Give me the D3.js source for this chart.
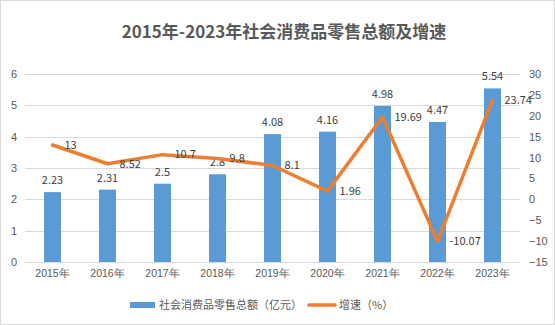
<!DOCTYPE html>
<html>
<head>
<meta charset="utf-8">
<script src="https://cdn.jsdelivr.net/npm/d3@7"></script>
<style>
  html, body { margin: 0; padding: 0; background: #fff; }
  svg { display: block; font-family: "Noto Sans CJK SC", "Noto Sans", sans-serif; }
</style>
</head>
<body>
<svg id="chart" width="555" height="325"></svg>
<script>
// 数据
const years = ["2015年", "2016年", "2017年", "2018年", "2019年", "2020年", "2021年", "2022年", "2023年"];
const totals = [2.23, 2.31, 2.5, 2.8, 4.08, 4.16, 4.98, 4.47, 5.54];
const growth = [13, 8.52, 10.7, 9.8, 8.1, 1.96, 19.69, -10.07, 23.74];
const leftTicks = [0, 1, 2, 3, 4, 5, 6];
const rightTicks = [-15, -10, -5, 0, 5, 10, 15, 20, 25, 30];

const title = "2015年-2023年社会消费品零售总额及增速";
const seriesNames = ["社会消费品零售总额（亿元）", "增速（%）"];

const W = 555, H = 325;
const m = { left: 25, right: 35, top: 74, bottom: 63 };
const BLUE = "#5B9BD5", ORANGE = "#ED7D31", TEXT = "#595959", GRID = "#d9d9d9";

const svg = d3.select("#chart");

svg.append("rect")
  .attr("x", 0.5).attr("y", 0.5)
  .attr("width", W - 1).attr("height", H - 1)
  .attr("fill", "#fff").attr("stroke", GRID);

const x = d3.scaleBand().domain(years).range([m.left, W - m.right]).paddingInner(0.69).paddingOuter(0.345);
const yL = d3.scaleLinear().domain([0, 6]).range([H - m.bottom, m.top]);
const yR = d3.scaleLinear().domain([-15, 30]).range([H - m.bottom, m.top]);

// 标题
svg.append("text")
  .attr("x", 284).attr("y", 38)
  .attr("text-anchor", "middle")
  .attr("font-size", 17).attr("font-weight", "bold")
  .attr("fill", TEXT)
  .text(title);

// 网格线
svg.append("g")
  .selectAll("line")
  .data(leftTicks)
  .join("line")
  .attr("x1", m.left).attr("x2", W - m.right)
  .attr("y1", d => Math.round(yL(d)) + 0.5).attr("y2", d => Math.round(yL(d)) + 0.5)
  .attr("stroke", GRID).attr("stroke-width", 1);

// 左轴
const leftAxis = svg.append("g")
  .attr("transform", `translate(${m.left - 8},0)`)
  .call(d3.axisLeft(yL).tickValues(leftTicks).tickFormat(d3.format("d")).tickSize(0).tickPadding(0));
leftAxis.select(".domain").remove();
leftAxis.selectAll("text").attr("font-size", 11).attr("fill", TEXT).attr("font-family", "inherit");

// 右轴
const rightAxis = svg.append("g")
  .attr("transform", `translate(${W - m.right + 9},0)`)
  .call(d3.axisRight(yR).tickValues(rightTicks).tickFormat(d3.format("d")).tickSize(0).tickPadding(0));
rightAxis.select(".domain").remove();
rightAxis.selectAll("text").attr("font-size", 11).attr("fill", TEXT).attr("font-family", "inherit");

// X 轴
const xAxis = svg.append("g")
  .attr("transform", `translate(0,${H - m.bottom + 8})`)
  .call(d3.axisBottom(x).tickSize(0).tickPadding(0));
xAxis.select(".domain").remove();
xAxis.selectAll("text").attr("font-size", 10.5).attr("fill", TEXT).attr("font-family", "inherit");

// 柱
svg.append("g")
  .selectAll("rect")
  .data(totals)
  .join("rect")
  .attr("x", (d, i) => x(years[i]))
  .attr("width", x.bandwidth())
  .attr("y", d => yL(d))
  .attr("height", d => yL(0) - yL(d))
  .attr("fill", BLUE);

// 柱标签
svg.append("g")
  .selectAll("text")
  .data(totals)
  .join("text")
  .attr("x", (d, i) => x(years[i]) + x.bandwidth() / 2)
  .attr("y", d => yL(d) - 8)
  .attr("text-anchor", "middle")
  .attr("font-size", 11).attr("fill", "#404040")
  .text(d => d);

// 折线
const cx = i => x(years[i]) + x.bandwidth() / 2;
const line = d3.line().x((d, i) => cx(i)).y(d => yR(d));
svg.append("path")
  .datum(growth)
  .attr("d", line)
  .attr("fill", "none")
  .attr("stroke", ORANGE)
  .attr("stroke-width", 3.5)
  .attr("stroke-linejoin", "round")
  .attr("stroke-linecap", "round");

// 折线标签
svg.append("g")
  .selectAll("text")
  .data(growth)
  .join("text")
  .attr("x", (d, i) => cx(i) + 12)
  .attr("y", d => yR(d))
  .attr("dy", "0.35em")
  .attr("font-size", 11).attr("fill", "#404040")
  .text(d => d);

// 图例
const lg = svg.append("g");
lg.append("rect").attr("x", 130).attr("y", 302).attr("width", 25).attr("height", 6).attr("fill", BLUE);
lg.append("text").attr("x", 159).attr("y", 305).attr("dy", "0.35em")
  .attr("font-size", 11).attr("fill", TEXT).text(seriesNames[0]);
lg.append("line").attr("x1", 309).attr("x2", 335).attr("y1", 305).attr("y2", 305)
  .attr("stroke", ORANGE).attr("stroke-width", 3.5).attr("stroke-linecap", "round");
lg.append("text").attr("x", 339).attr("y", 305).attr("dy", "0.35em")
  .attr("font-size", 11).attr("fill", TEXT).text(seriesNames[1]);
</script>
</body>
</html>
